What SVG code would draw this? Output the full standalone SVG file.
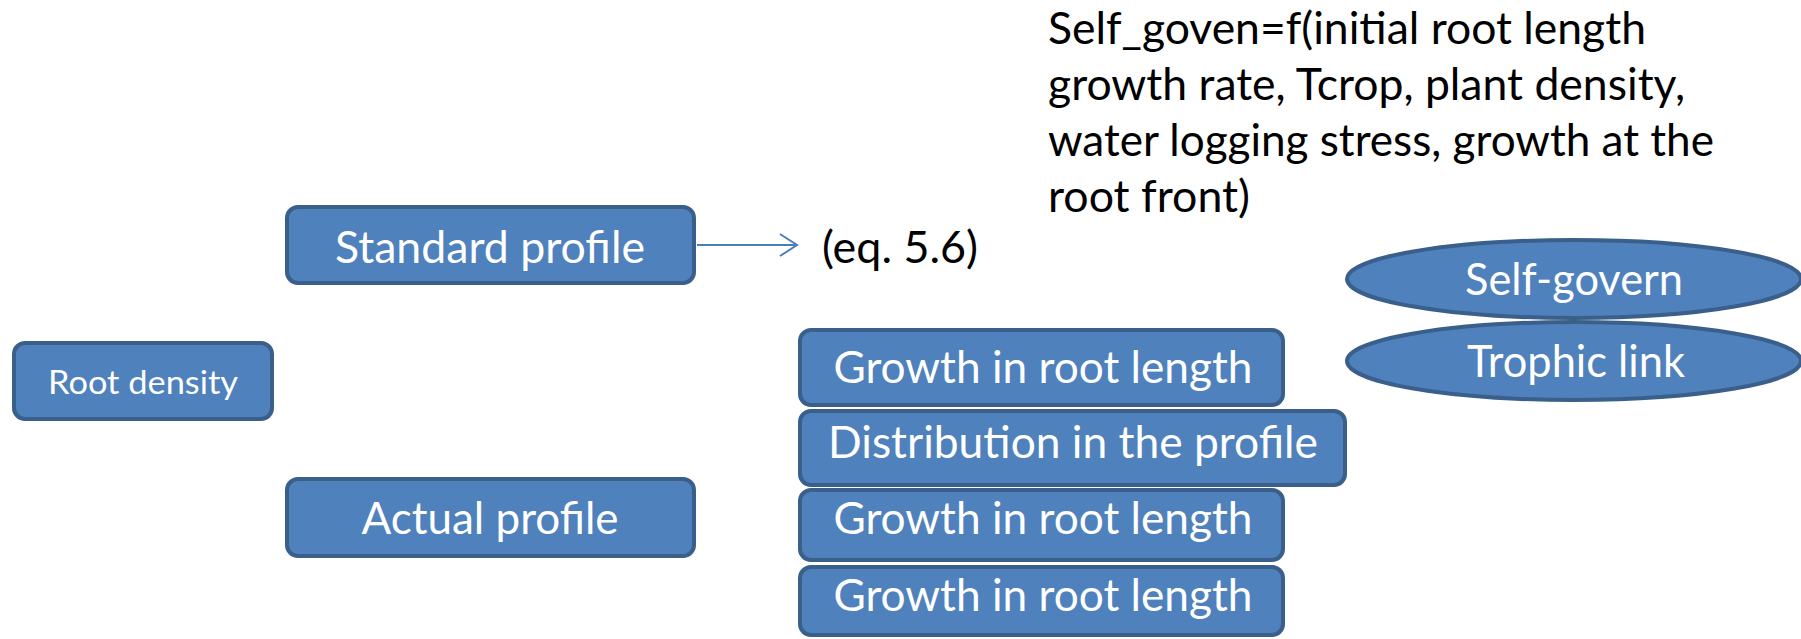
<svg xmlns="http://www.w3.org/2000/svg" width="1801" height="639" viewBox="0 0 1801 639">
<style>
.box{fill:#4F81BD;stroke:#3A5F8B;stroke-width:4}
.lbl{fill:#FFFFFF;font-family:Lato,"Open Sans","Liberation Sans",sans-serif;font-size:44px;text-anchor:middle}
.note{fill:#000000;font-family:Lato,"Open Sans","Liberation Sans",sans-serif;font-size:44px}
.conn{stroke:#4A7EBB;stroke-width:2;fill:none}
</style>
<rect width="1801" height="639" fill="#FFFFFF"/>
<g id="connectors">
<line class="conn" x1="697" y1="245" x2="796" y2="245"/>
<polyline class="conn" points="780,234 797,245 780,256"/>
</g>
<g id="root-density">
<rect class="box" x="14" y="343" width="258" height="76" rx="11"/>
<text class="lbl" x="143" y="394" style="font-size:33px" textLength="190" lengthAdjust="spacingAndGlyphs">Root density</text>
</g>
<g id="standard-profile">
<rect class="box" x="287" y="207" width="407" height="76" rx="11"/>
<text class="lbl" x="490" y="263" textLength="310" lengthAdjust="spacingAndGlyphs">Standard profile</text>
</g>
<g id="actual-profile">
<rect class="box" x="287" y="479" width="407" height="77" rx="11"/>
<text class="lbl" x="490" y="534" textLength="257" lengthAdjust="spacingAndGlyphs">Actual profile</text>
</g>
<g id="eq-label">
<text class="note" x="822" y="263" textLength="156" lengthAdjust="spacingAndGlyphs">(eq. 5.6)</text>
</g>
<g id="self-goven-note">
<text class="note" x="1048" y="44" textLength="598" lengthAdjust="spacingAndGlyphs">Self_goven=f(initial root length</text>
<text class="note" x="1048" y="100" textLength="637" lengthAdjust="spacingAndGlyphs">growth rate, Tcrop, plant density,</text>
<text class="note" x="1048" y="156" textLength="666" lengthAdjust="spacingAndGlyphs">water logging stress, growth at the</text>
<text class="note" x="1048" y="212" textLength="202" lengthAdjust="spacingAndGlyphs">root front)</text>
</g>
<g id="growth-1">
<rect class="box" x="800" y="330" width="483" height="75" rx="11"/>
<text class="lbl" x="1043" y="383" textLength="419" lengthAdjust="spacingAndGlyphs">Growth in root length</text>
</g>
<g id="distribution">
<rect class="box" x="800" y="411" width="545" height="74" rx="11"/>
<text class="lbl" x="1073" y="458" textLength="490" lengthAdjust="spacingAndGlyphs">Distribution in the profile</text>
</g>
<g id="growth-2">
<rect class="box" x="800" y="490" width="483" height="70" rx="11"/>
<text class="lbl" x="1043" y="534" textLength="419" lengthAdjust="spacingAndGlyphs">Growth in root length</text>
</g>
<g id="growth-3">
<rect class="box" x="800" y="567" width="483" height="68" rx="11"/>
<text class="lbl" x="1043" y="611" textLength="419" lengthAdjust="spacingAndGlyphs">Growth in root length</text>
</g>
<g id="self-govern">
<ellipse class="box" cx="1574" cy="279" rx="227" ry="39"/>
<text class="lbl" x="1574" y="295" textLength="218" lengthAdjust="spacingAndGlyphs">Self-govern</text>
</g>
<g id="trophic-link">
<ellipse class="box" cx="1574" cy="361" rx="227" ry="39"/>
<text class="lbl" x="1576" y="377" textLength="218" lengthAdjust="spacingAndGlyphs">Trophic link</text>
</g>
</svg>
